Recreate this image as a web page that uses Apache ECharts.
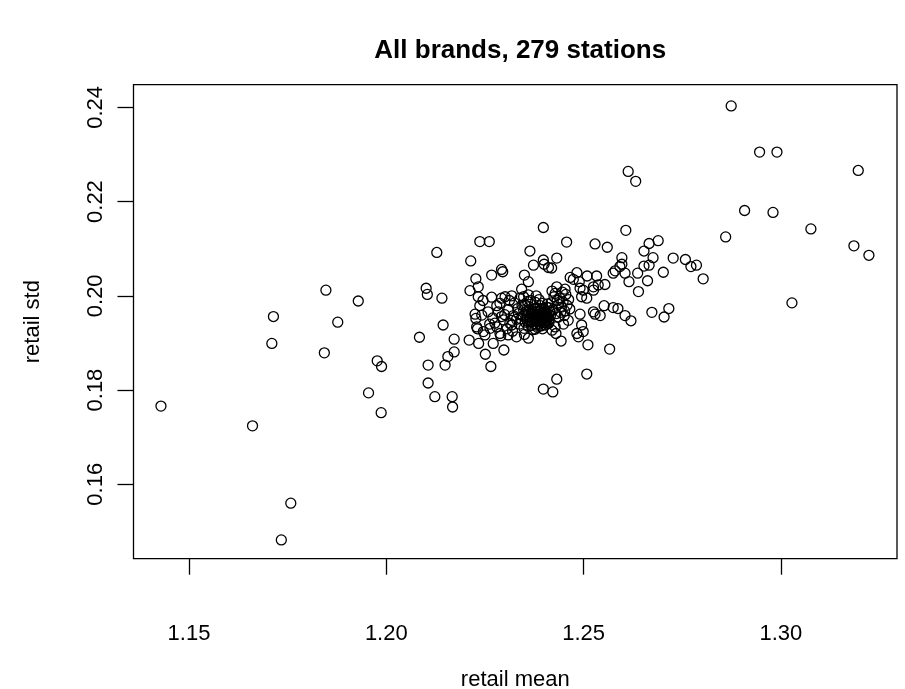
<!DOCTYPE html>
<html>
<head>
<meta charset="utf-8">
<script src="https://cdn.jsdelivr.net/npm/echarts@6/dist/echarts.min.js"></script>
<style>
html,body{margin:0;padding:0;background:#fff;}
#chart{width:905px;height:689px;}
</style>
</head>
<body>
<div id="chart"></div>
<script>
// ---- data ----
const titleText = "All brands, 279 stations";
const xName = "retail mean";
const yName = "retail std";
const xTicks = [1.15, 1.20, 1.25, 1.30];
const yTicks = [0.16, 0.18, 0.20, 0.22, 0.24];

// retail mean of each station
const retailMean = [
1.1429,1.1661,1.1710,1.1714,1.1758,1.1734,1.1843,1.1847,1.1877,1.1929,
1.1955,1.1977,1.1988,1.1987,1.2084,1.2101,1.2104,1.2106,1.2106,1.2123,
1.2167,1.2168,1.2128,1.2141,1.2144,1.2156,1.2149,1.2172,1.2172,1.2214,
1.2237,1.2261,1.2227,1.2267,1.2292,1.2295,1.2233,1.2212,1.2233,1.2237,
1.2267,1.2292,1.2301,1.2318,1.2343,1.2339,1.2225,1.2227,1.2242,1.2229,
1.2231,1.2246,1.2250,1.2263,1.2275,1.2280,1.2284,1.2292,1.2297,1.2280,
1.2288,1.2313,1.2318,1.2309,1.2330,1.2288,1.2360,1.2210,1.2234,1.2271,
1.2251,1.2298,1.2265,1.2398,1.2364,1.2373,1.2398,1.2400,1.2411,1.2432,
1.2419,1.2350,1.2360,1.2457,1.2529,1.2560,1.2607,1.2613,1.2632,1.2666,
1.2689,1.2653,1.2597,1.2676,1.2597,1.2592,1.2653,1.2666,1.2580,1.2575,
1.2605,1.2637,1.2615,1.2662,1.2639,1.2483,1.2509,1.2533,1.2466,1.2474,
1.2489,1.2554,1.2432,1.2453,1.2491,1.2499,1.2525,1.2537,1.2508,1.2495,
1.2552,1.2575,1.2587,1.2605,1.2620,1.2673,1.2716,1.2704,1.2491,1.2525,
1.2529,1.2542,1.2461,1.2449,1.2428,1.2495,1.2483,1.2487,1.2499,1.2443,
1.2511,1.2566,1.2432,1.2508,1.2398,1.2422,1.2874,1.2946,1.2990,1.3196,
1.2908,1.2980,1.3076,1.2860,1.3185,1.3223,1.3028,1.2727,1.2758,1.2772,
1.2786,1.2803,1.2702,1.2525,
1.2335,1.2341,1.2348,1.2352,1.2356,1.2360,1.2362,1.2365,1.2368,1.2370,
1.2372,1.2374,1.2376,1.2378,1.2380,1.2381,1.2383,1.2385,1.2386,1.2388,
1.2390,1.2391,1.2393,1.2395,1.2396,1.2398,1.2400,1.2401,1.2403,1.2405,
1.2407,1.2409,1.2410,1.2412,1.2414,1.2338,1.2344,1.2349,1.2354,1.2358,
1.2363,1.2367,1.2371,1.2375,1.2379,1.2382,1.2384,1.2387,1.2389,1.2392,
1.2394,1.2397,1.2399,1.2402,1.2404,1.2406,1.2408,1.2411,1.2413,1.2416,
1.2330,1.2333,1.2346,1.2351,1.2357,1.2361,1.2366,1.2369,1.2373,1.2377,
1.2380,1.2384,1.2387,1.2390,1.2393,1.2396,1.2400,1.2403,1.2407,1.2411,
1.2420,1.2425,1.2428,1.2433,1.2437,1.2440,1.2444,1.2448,1.2452,1.2455,
1.2458,1.2462,1.2423,1.2430,1.2436,1.2442,1.2418,1.2446,1.2451,1.2465,
1.2300,1.2310,1.2322,1.2318,1.2258,1.2270,1.2262,1.2306,1.2320,1.2290,
1.2325,1.2312,1.2348,1.2360,1.2380,1.2245,1.2420,1.2430,1.2350
];

// retail std of each station
const retailStd = [
0.1766,0.1724,0.1899,0.1956,0.1560,0.1482,0.1879,0.2012,0.1944,0.1989,
0.1794,0.1862,0.1850,0.1752,0.1912,0.2016,0.2003,0.1853,0.1815,0.1786,
0.1786,0.1764,0.2092,0.1995,0.1938,0.1871,0.1853,0.1908,0.1881,0.2074,
0.2115,0.2115,0.2036,0.2044,0.2056,0.2051,0.2019,0.2011,0.1998,0.1979,
0.1997,0.1995,0.1998,0.2000,0.2014,0.1995,0.1961,0.1952,0.1959,0.1934,
0.1930,0.1924,0.1917,0.1931,0.1942,0.1934,0.1966,0.1956,0.1949,0.1979,
0.1984,0.1942,0.1938,0.1917,0.1913,0.1920,0.1910,0.1906,0.1899,0.1899,
0.1876,0.1885,0.1850,0.2145,0.2095,0.2065,0.2076,0.2067,0.2060,0.2080,
0.2059,0.2044,0.2030,0.2114,0.2110,0.2103,0.2139,0.2264,0.2243,0.2111,
0.2117,0.2095,0.2081,0.2081,0.2067,0.2062,0.2063,0.2065,0.2053,0.2048,
0.2048,0.2048,0.2030,0.2032,0.2009,0.2049,0.2042,0.2042,0.2039,0.2035,
0.2030,0.2024,0.2019,0.2014,0.2016,0.2012,0.2019,0.2023,0.1995,0.1998,
0.1979,0.1975,0.1973,0.1958,0.1947,0.1965,0.1973,0.1955,0.1961,0.1966,
0.1961,0.1958,0.1948,0.1940,0.1934,0.1938,0.1920,0.1913,0.1924,0.1904,
0.1896,0.1887,0.1823,0.1834,0.1802,0.1796,0.2403,0.2305,0.2305,0.2266,
0.2181,0.2177,0.2142,0.2125,0.2106,0.2086,0.1985,0.2080,0.2077,0.2062,
0.2065,0.2036,0.2050,0.2012,
0.1962,0.1951,0.1970,0.1944,0.1958,0.1935,0.1977,0.1949,0.1963,0.1928,
0.1955,0.1941,0.1972,0.1986,0.1947,0.1960,0.1933,0.1968,0.1952,0.1940,
0.1979,0.1957,0.1945,0.1964,0.1930,0.1950,0.1971,0.1958,0.1938,0.1947,
0.1962,0.1983,0.1954,0.1942,0.1968,0.1940,0.1980,0.1931,0.1966,0.1988,
0.1953,0.1937,0.1966,0.1952,0.1938,0.1974,0.1957,0.1946,0.1966,0.1936,
0.1973,0.1956,0.1943,0.1967,0.1953,0.1976,0.1940,0.1961,0.1949,0.1958,
0.1950,0.1973,0.1957,0.1981,0.1947,0.1969,0.1990,0.1945,0.1961,0.1929,
0.1956,0.1949,0.1992,0.1962,0.1953,0.1984,0.1944,0.1960,0.1951,0.1975,
0.2010,0.1998,0.2005,0.1990,0.1982,0.1995,0.1976,0.1987,0.1968,0.2003,
0.1980,0.1992,0.1970,0.1962,0.1955,0.1965,0.1985,0.2008,0.1958,0.1972,
0.1960,0.1971,0.1958,0.1948,0.1966,0.1953,0.1940,0.1930,0.1925,0.1915,
0.1985,0.1990,0.1998,0.2002,0.2000,0.1990,0.1927,0.1920,0.1918
];

const points = retailMean.map((m, i) => [m, retailStd[i]]);

const FONT = "Liberation Sans, Arial, sans-serif";
const chart = echarts.init(document.getElementById('chart'), null, {renderer: 'canvas'});
const gridLeft = 133.5, gridTop = 84.7, gridRight = 8, gridBottom = 130.3;
const plotCenterX = gridLeft + (905 - gridLeft - gridRight) / 2;

chart.setOption({
  animation: false,
  backgroundColor: '#fff',
  title: {
    text: titleText,
    left: plotCenterX, top: 33,
    textAlign: 'center',
    textStyle: {fontFamily: FONT, fontSize: 26, fontWeight: 'bold', color: '#000'}
  },
  grid: {
    left: gridLeft, top: gridTop, right: gridRight, bottom: gridBottom,
    show: true, borderColor: '#000', borderWidth: 1.3,
    containLabel: false, outerBoundsMode: 'none'
  },
  xAxis: {
    type: 'value',
    min: 1.13594, max: 1.32942,
    name: xName, nameLocation: 'middle', nameGap: 110,
    nameTextStyle: {fontFamily: FONT, fontSize: 22, color: '#000'},
    splitLine: {show: false},
    axisLine: {show: false},
    axisTick: {show: true, inside: false, length: 16, customValues: xTicks,
      lineStyle: {color: '#000', width: 1.3}},
    axisLabel: {show: true, customValues: xTicks, margin: 64,
      formatter: v => v.toFixed(2),
      fontFamily: FONT, fontSize: 22, color: '#000'}
  },
  yAxis: {
    type: 'value',
    min: 0.14421, max: 0.24480,
    name: yName, nameLocation: 'middle', nameGap: 90,
    nameTextStyle: {fontFamily: FONT, fontSize: 22, color: '#000'},
    splitLine: {show: false},
    axisLine: {show: false},
    axisTick: {show: true, inside: false, length: 16, customValues: yTicks,
      lineStyle: {color: '#000', width: 1.3}},
    axisLabel: {show: true, customValues: yTicks, margin: 27, rotate: 90,
      formatter: v => v.toFixed(2),
      fontFamily: FONT, fontSize: 22, color: '#000'}
  },
  series: [{
    type: 'scatter',
    data: points,
    symbol: 'circle',
    symbolSize: 10,
    itemStyle: {color: 'rgba(0,0,0,0)', borderColor: '#000', borderWidth: 1.3, opacity: 1},
    emphasis: {disabled: true},
    silent: true
  }]
});
</script>
</body>
</html>
